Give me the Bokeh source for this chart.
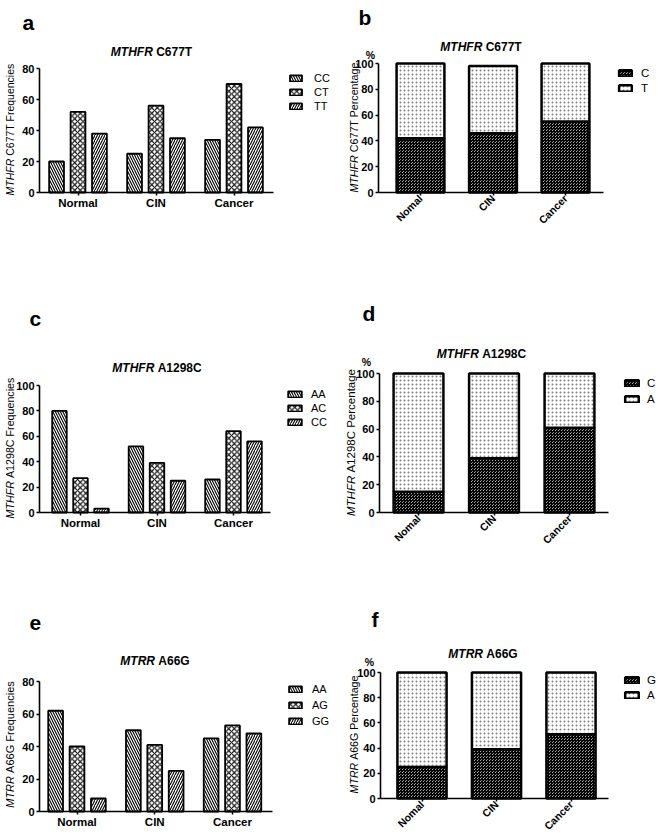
from math import pi
from bokeh.plotting import figure
from bokeh.models import (ColumnDataSource, Range1d, FixedTicker, Label, Legend, LegendItem)
from bokeh.transform import dodge, stack
from bokeh.layouts import column, row
from bokeh.embed import file_html
from bokeh.resources import INLINE

FONT = "Liberation Sans"

# ---------------- data ----------------
freq_groups = ["Normal", "CIN", "Cancer"]
pct_groups = ["Nomal", "CIN", "Cancer"]

c677t_genotypes = ["CC", "CT", "TT"]
c677t_cc = [20, 25, 34]
c677t_ct = [52, 56, 70]
c677t_tt = [38, 35, 42]
c677t_alleles = ["C", "T"]
c677t_c_pct = [42, 46, 55]
c677t_t_pct = [58, 52, 45]

a1298c_genotypes = ["AA", "AC", "CC"]
a1298c_aa = [80, 52, 26]
a1298c_ac = [27, 39, 64]
a1298c_cc = [3, 25, 56]
a1298c_alleles = ["C", "A"]
a1298c_c_pct = [15, 39, 61]
a1298c_a_pct = [85, 61, 39]

a66g_genotypes = ["AA", "AG", "GG"]
a66g_aa = [62, 50, 45]
a66g_ag = [40, 41, 53]
a66g_gg = [8, 25, 48]
a66g_alleles = ["G", "A"]
a66g_g_pct = [25, 39, 51]
a66g_a_pct = [75, 61, 49]

ticks_80 = [0, 20, 40, 60, 80]
ticks_100 = [0, 20, 40, 60, 80, 100]

# ---------------- helpers ----------------
REG = {" ": 278, "%": 889, "A": 667, "C": 722, "F": 611, "G": 778, "H": 722, "M": 833,
       "P": 667, "R": 722, "T": 611, "a": 556, "c": 500, "e": 556, "g": 556, "i": 222,
       "n": 556, "q": 556, "r": 333, "s": 500, "t": 278, "u": 556}
BOLD = {" ": 278, "A": 722, "C": 722, "F": 611, "G": 778, "H": 722, "M": 833, "R": 722, "T": 611}


def tw(s, size, bold=False):
    t = BOLD if bold else REG
    return sum(t.get(ch, 556) for ch in s) * size / 1000.0


class Geo:
    """Page geometry of one panel: figure box + where the axes sit on the page."""
    def __init__(self, fig, c0, cw, ax0, ax1, bottom, ppu):
        self.X0, self.Y0, self.W, self.H = fig
        self.c0, self.cw, self.ax0, self.ax1 = c0, cw, ax0, ax1
        self.bottom, self.ppu = bottom, ppu

    def xd(self, px):          # page x -> data x (groups at 1, 2, 3)
        return 1 + (px - self.c0) / self.cw

    def yd(self, py):          # page y -> data y
        return (self.bottom - py) / self.ppu


def page_label(p, g, X, Y, text, size, style="normal", align="left",
               baseline="alphabetic", angle=0.0):
    p.add_layout(Label(x=X - g.X0, y=g.Y0 + g.H - Y, x_units="screen", y_units="screen",
                       text=text, angle=angle, text_font=FONT,
                       text_font_size=f"{size}px", text_font_style=style,
                       text_align=align, text_baseline=baseline, text_color="black"))


def base_fig(g, labels, y_end, ticks, rotate):
    p = figure(width=g.W, height=g.H,
               x_range=Range1d(g.xd(g.X0), g.xd(g.X0 + g.W)),
               y_range=Range1d(g.yd(g.Y0 + g.H), g.yd(g.Y0)),
               output_backend="svg", toolbar_location=None,
               min_border=0, min_border_left=0, min_border_right=0,
               min_border_top=0, min_border_bottom=0)
    p.outline_line_color = None
    p.xgrid.visible = False
    p.ygrid.visible = False
    p.background_fill_color = "white"
    p.border_fill_color = "white"
    positions = list(range(1, len(labels) + 1))
    p.xaxis.ticker = FixedTicker(ticks=positions)
    p.xaxis.major_label_overrides = {k: lab for k, lab in zip(positions, labels)}
    p.xaxis.fixed_location = 0
    p.xaxis.bounds = (g.xd(g.ax0), g.xd(g.ax1))
    p.yaxis.ticker = FixedTicker(ticks=ticks)
    p.yaxis.fixed_location = g.xd(g.ax0)
    p.yaxis.bounds = (0, y_end)
    for ax in (p.xaxis[0], p.yaxis[0]):
        ax.axis_line_width = 1.6
        ax.axis_line_color = "black"
        ax.major_tick_line_width = 1.5
        ax.major_tick_line_color = "black"
        ax.major_tick_in = 0
        ax.major_tick_out = 3
        ax.minor_tick_line_color = None
        ax.major_label_text_font = FONT
        ax.major_label_text_font_style = "bold"
        ax.major_label_text_color = "black"
        ax.major_label_standoff = 2
    p.yaxis.major_label_text_font_size = "11px"
    if rotate:
        p.xaxis.major_label_orientation = pi / 4
        p.xaxis.major_label_text_font_size = "10.5px"
        p.xaxis.major_label_standoff = 1
    else:
        p.xaxis.major_label_text_font_size = "11.5px"
        p.xaxis.major_label_standoff = 1
    return p, positions


def decorate(p, g, gene, rest, title_c, title_size, ylab_x, ylab_cy, ylab_size,
             letter, letter_xy, pct_xy=None):
    w1 = tw(gene, title_size, True)
    wsp = tw(" ", title_size, True)
    w2 = tw(rest, title_size, True)
    x_start = title_c[0] - (w1 + wsp + w2) / 2
    page_label(p, g, x_start, title_c[1], gene, title_size, "bold italic", "left", "middle")
    page_label(p, g, x_start + w1 + wsp, title_c[1], rest, title_size, "bold", "left", "middle")
    rest_y = rest + (" Percentage" if pct_xy else " Frequencies")
    v1 = tw(gene, ylab_size)
    vsp = tw(" ", ylab_size)
    v2 = tw(rest_y, ylab_size)
    y_start = ylab_cy + (v1 + vsp + v2) / 2
    page_label(p, g, ylab_x, y_start, gene, ylab_size, "italic", "left", "alphabetic", pi / 2)
    page_label(p, g, ylab_x, y_start - v1 - vsp, rest_y, ylab_size, "normal", "left",
               "alphabetic", pi / 2)
    page_label(p, g, letter_xy[0], letter_xy[1], letter, 21, "bold", "left", "alphabetic")
    if pct_xy:
        page_label(p, g, pct_xy[0], pct_xy[1], "%", 10.5, "bold", "center", "middle")


def add_legend(p, g, items, box_x, row0, pitch, gw, gh, standoff, font_size):
    item_h = 12
    sp = int(round(pitch - item_h))
    n = len(items)
    H = n * item_h + (n - 1) * sp
    top_page = row0 - 5
    leg = Legend(items=[LegendItem(label=lab, renderers=[r]) for lab, r in items],
                 location=(int(round(box_x - g.X0)), int(round(g.Y0 + g.H - (top_page + H)))),
                 orientation="vertical", border_line_color=None,
                 background_fill_alpha=0, padding=0, margin=0, spacing=sp,
                 glyph_width=int(gw), glyph_height=int(gh), label_height=item_h,
                 label_standoff=int(standoff), label_text_font=FONT,
                 label_text_font_size=f"{font_size}px", label_text_color="black")
    p.add_layout(leg)


FREQ_HATCH = ["left_diagonal_line", "diagonal_cross", "right_diagonal_line"]
FREQ_SCALE = [5, 5.5, 5]
OFFS = [-0.275, 0.0, 0.275]


def freq_panel(g, y_end, ticks, genotypes, series, gene, rest, title_c,
               ylab_x, ylab_cy, ylab_size, letter, letter_xy, leg):
    p, pos = base_fig(g, freq_groups, y_end, ticks, False)
    data = {"pos": pos}
    for gt, s in zip(genotypes, series):
        data[gt] = s
    src = ColumnDataSource(data)
    items = []
    for i, gt in enumerate(genotypes):
        r = p.vbar(x=dodge("pos", OFFS[i]), top=gt, bottom=0, width=0.19,
                   source=src, fill_color="white", line_color="black", line_width=1.8,
                   hatch_pattern=FREQ_HATCH[i], hatch_scale=FREQ_SCALE[i],
                   hatch_weight=1.1, hatch_color="black")
        items.append((gt, r))
    decorate(p, g, gene, rest, title_c, 12, ylab_x, ylab_cy, ylab_size, letter, letter_xy)
    add_legend(p, g, items, *leg)
    return p


def pct_panel(g, alleles, lower, upper, gene, rest, title_c,
              ylab_x, ylab_cy, ylab_size, letter, letter_xy, pct_xy, leg):
    p, pos = base_fig(g, pct_groups, 100, ticks_100, True)
    src = ColumnDataSource({"pos": pos, alleles[0]: lower, alleles[1]: upper})
    r1 = p.vbar(x="pos", bottom=stack(), top=stack(alleles[0]), width=0.66, source=src,
                fill_color="white", line_color="black", line_width=2.5,
                hatch_pattern="criss_cross", hatch_scale=3, hatch_weight=1.2,
                hatch_color="black")
    r2 = p.vbar(x="pos", bottom=stack(alleles[0]), top=stack(alleles[0], alleles[1]),
                width=0.66, source=src, fill_color="white", line_color="black",
                line_width=2.5, hatch_pattern="dot", hatch_scale=4, hatch_weight=1,
                hatch_color="#808080")
    decorate(p, g, gene, rest, title_c, 12, ylab_x, ylab_cy, ylab_size, letter, letter_xy,
             pct_xy)
    add_legend(p, g, [(alleles[0], r1), (alleles[1], r2)], *leg)
    return p


ga = Geo((0, 0, 330, 270), 77.5, 78, 39, 273, 192, 1.55)
gb = Geo((330, 0, 330, 270), 420, 72.5, 378, 603, 192, 1.29)
gc = Geo((0, 270, 330, 285), 80, 76.5, 39, 270, 512, 1.27)
gd = Geo((330, 270, 330, 285), 418, 75.5, 379, 608, 512, 1.39)
ge = Geo((0, 555, 330, 280), 76.5, 77.75, 39, 272, 811, 1.625)
gf = Geo((330, 555, 330, 280), 421.5, 74.5, 380, 608, 798, 1.26)

pa = freq_panel(ga, 80, ticks_80, c677t_genotypes, [c677t_cc, c677t_ct, c677t_tt],
                "MTHFR", "C677T", (151, 51), 9.5, 129, 10.5, "a", (22, 22),
                (288, 77, 13.5, 15, 8, 11, 11))
pb = pct_panel(gb, c677t_alleles, c677t_c_pct, c677t_t_pct, "MTHFR", "C677T", (480.5, 46),
               353, 127, 10.7, "b", (358, 17), (370, 54.5),
               (617, 72, 15, 16, 8, 8, 11.5))
pc = freq_panel(gc, 100, ticks_100, a1298c_genotypes, [a1298c_aa, a1298c_ac, a1298c_cc],
                "MTHFR", "A1298C", (156.5, 367), 9.5, 447.5, 10.7, "c", (29, 318),
                (286, 393, 14.5, 17, 8, 8, 11))
pd_ = pct_panel(gd, a1298c_alleles, a1298c_c_pct, a1298c_a_pct, "MTHFR", "A1298C",
                (481, 353), 350, 442, 11.5, "d", (362, 313), (366, 361.5),
                (623, 382, 16.5, 17, 8, 7, 11.5))
pe = freq_panel(ge, 80, ticks_80, a66g_genotypes, [a66g_aa, a66g_ag, a66g_gg],
                "MTRR", "A66G", (154.5, 660), 9.5, 744, 11, "e", (29, 622),
                (287, 688, 15.5, 16, 8, 9, 11))
pf = pct_panel(gf, a66g_alleles, a66g_g_pct, a66g_a_pct, "MTRR", "A66G", (482.5, 653),
               353, 734, 10.6, "f", (371, 619), (369, 661),
               (623, 679, 15, 17, 8, 7, 11.5))

layout = column(row(pa, pb), row(pc, pd_), row(pe, pf))
open("out.html", "w").write(file_html(layout, INLINE))
